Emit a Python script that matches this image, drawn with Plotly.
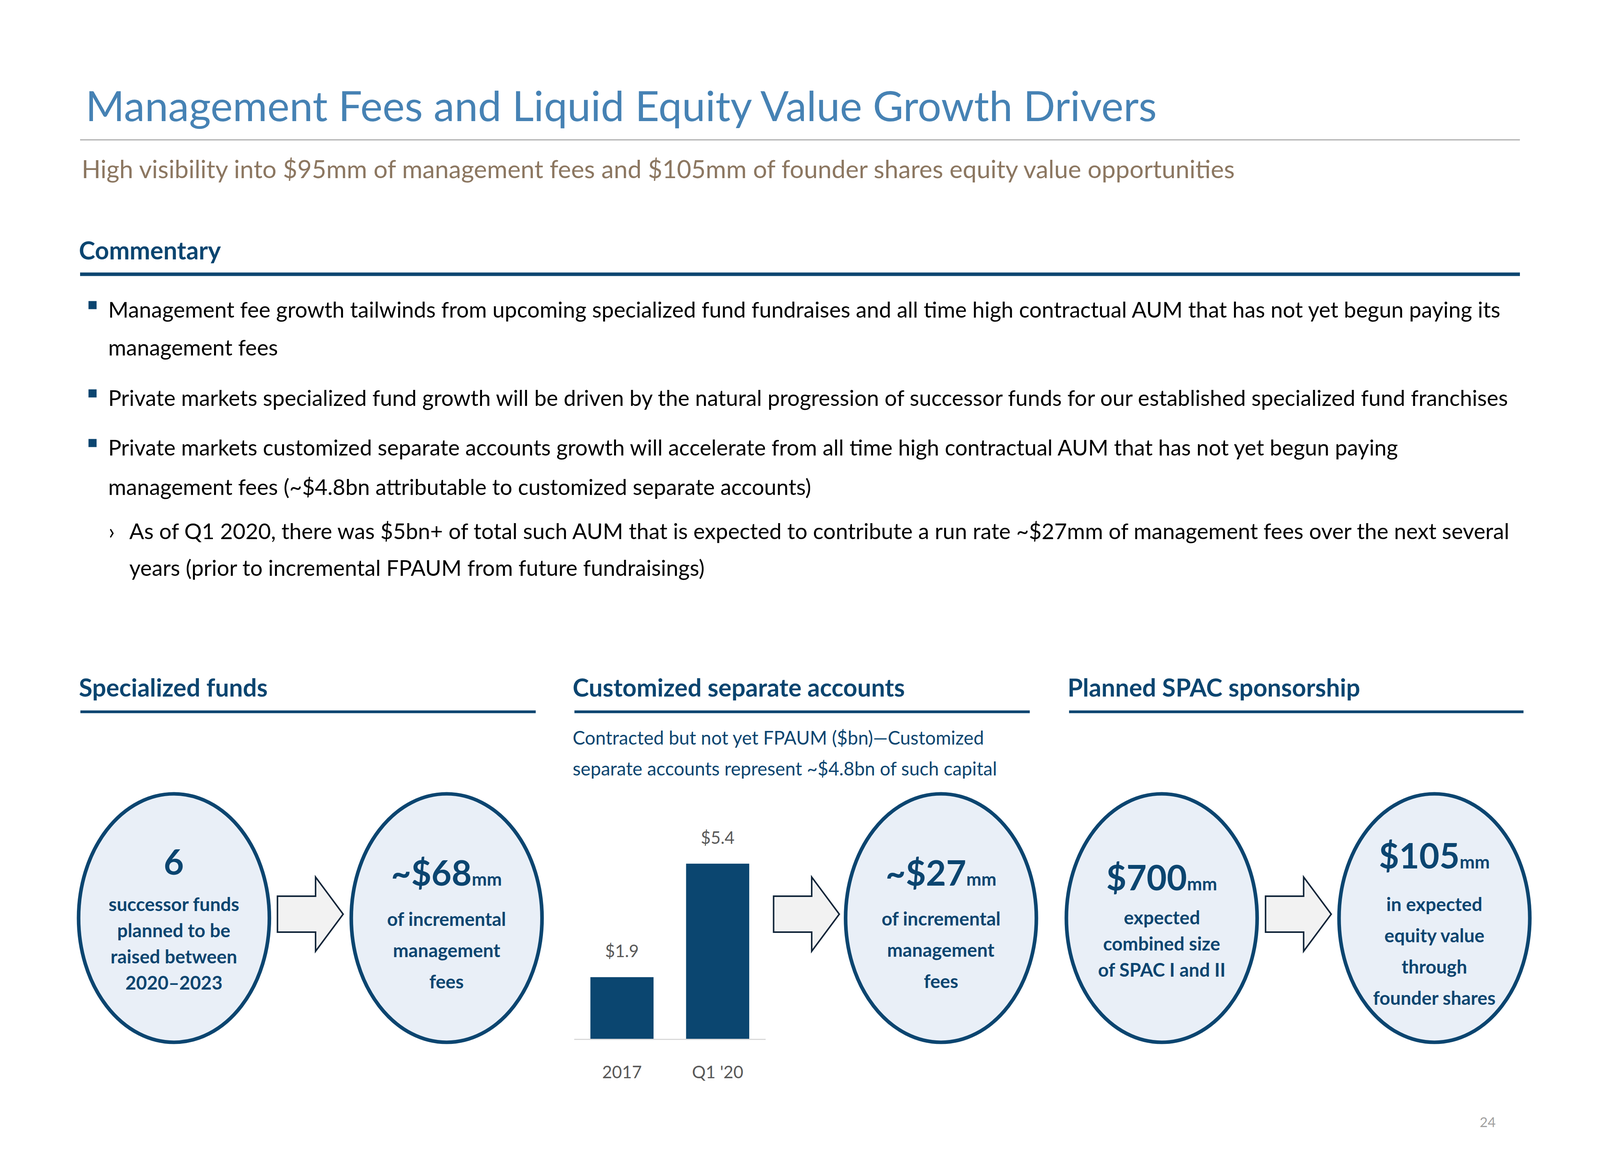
import plotly.graph_objects as go

# slide grid of the reference (5334 x 3000); the page shows 4096 x 3000 css px
W, H = 5334, 3000
CSS_W, CSS_H = 4096, 3000
SX = W / CSS_W          # slide units per css px, horizontal
SY = H / CSS_H          # slide units per css px, vertical
OFFX, OFFY = 8 * SX, 8 * SY   # default body margin of the page

FONT = "Lato"
NAVY = "#0B4570"
TITLE_BLUE = "#4682B4"
BROWN = "#8C7761"
GRAY = "#595959"

# --- data ---
categories = ["2017", "Q1 '20"]
fpaum_bn = [1.9, 5.4]
bar_labels = ["$1.9", "$5.4"]

title = "Management Fees and Liquid Equity Value Growth Drivers"
subtitle = "High visibility into $95mm of management fees and $105mm of founder shares equity value opportunities"

# kind: b = bullet line, c = continuation, s = sub bullet, sc = sub continuation
commentary = [
    ("Management fee growth tailwinds from upcoming specialized fund fundraises and all time high contractual AUM that has not yet begun paying its", "b"),
    ("management fees", "c"),
    ("Private markets specialized fund growth will be driven by the natural progression of successor funds for our established specialized fund franchises", "b"),
    ("Private markets customized separate accounts growth will accelerate from all time high contractual AUM that has not yet begun paying", "b"),
    ("management fees (~$4.8bn attributable to customized separate accounts)", "c"),
    ("As of Q1 2020, there was $5bn+ of total such AUM that is expected to contribute a run rate ~$27mm of management fees over the next several", "s"),
    ("years (prior to incremental FPAUM from future fundraisings)", "sc"),
]
baselines = [813, 910, 1039, 1166, 1267, 1380, 1474]

sections = ["Specialized funds", "Customized separate accounts", "Planned SPAC sponsorship"]
section_x = [(268, 1786), (1915, 3433), (3564, 5079)]
chart_note = ["Contracted but not yet FPAUM ($bn)—Customized",
              "separate accounts represent ~$4.8bn of such capital"]

circle_cx = [580, 1489, 3137, 3873, 4782]
circle_big = ["6", "~$68", "~$27", "$700", "$105"]
circle_unit = ["", "mm", "mm", "mm", "mm"]
circle_lines = [
    ["successor funds", "planned to be", "raised between", "2020–2023"],
    ["of incremental", "management", "fees"],
    ["of incremental", "management", "fees"],
    ["expected", "combined size", "of SPAC I and II"],
    ["in expected", "equity value", "through", "founder shares"],
]
big_y = [2204, 2232, 2232, 2244, 2188]
line_y0 = [2313, 2351, 2350, 2347, 2313]
line_step = [67, 80, 80, 67, 80]
arrow_x = [925, 2579, 4219]


def fs(v):
    # size given in slide units (measured along x) -> css px
    return v / SX


def domx(X):
    return (X - OFFX) / (W - OFFX)


def domy(Y):
    return 1 - (Y - OFFY) / (H - OFFY)


fig = go.Figure()

xpos = list(range(len(categories)))
fig.add_trace(go.Bar(
    x=xpos, y=fpaum_bn, xaxis="x2", yaxis="y2", width=0.66,
    marker=dict(color="#0B4670", line=dict(width=0)),
    hoverinfo="skip", showlegend=False,
))

ann = []
shapes = []


def text(x, y, s, size, color="#000000", bold=False, xanchor="left", yanchor="middle"):
    if bold:
        s = "<b>" + s + "</b>"
    ann.append(dict(x=x, y=y, xref="x", yref="y", text=s, showarrow=False,
                    xanchor=xanchor, yanchor=yanchor,
                    font=dict(family=FONT, size=fs(size), color=color)))


def hline(x0, x1, y, color, width):
    shapes.append(dict(type="line", x0=x0, x1=x1, y0=y, y1=y,
                       line=dict(color=color, width=fs(width))))


def mid(baseline, size):
    # baseline -> middle of the text box, in slide y units
    return baseline - 0.39 * fs(size) * SY


# header
text(282, mid(310, 140), title, 140, TITLE_BLUE)
hline(267, 5067, 358, "#A0A0A0", 3)
text(270, mid(456, 83), subtitle, 83, BROWN)
text(260, mid(664, 82), "Commentary", 82, NAVY, bold=True)
hline(267, 5067, 702, NAVY, 12)

# commentary bullets
sq = fs(27) * SY
for (s, kind), yb in zip(commentary, baselines):
    yc = mid(yb, 73)
    if kind == "b":
        shapes.append(dict(type="rect", x0=295, x1=322, y0=yb - 32 - sq / 2,
                           y1=yb - 32 + sq / 2, fillcolor=NAVY, line=dict(width=0)))
    if kind == "s":
        text(360, yc, "›", 73)
    x = 358 if kind in ("b", "c") else 428
    text(x, yc, s, 73)

# section headers
for s, (x0, x1) in zip(sections, section_x):
    text(x0 - 8, mid(1783, 82), s, 82, NAVY, bold=True)
    hline(x0, x1, 1822, NAVY, 9)
for i, s in enumerate(chart_note):
    text(1907, mid(1906 + 79 * i, 62), s, 62, NAVY)

# circles
R = 318
for cx, big, unit, lines, by, y0, st in zip(circle_cx, circle_big, circle_unit,
                                             circle_lines, big_y, line_y0, line_step):
    shapes.append(dict(type="circle", x0=cx - R, x1=cx + R, y0=2350 - R, y1=2350 + R,
                       fillcolor="#E9EFF7", line=dict(color=NAVY, width=fs(12))))
    s = big + (f"<span style='font-size:{fs(60):.1f}px'>{unit}</span>" if unit else "")
    text(cx, by, s, 116, NAVY, bold=True, xanchor="center")
    for k, ln in enumerate(lines):
        text(cx, y0 + st * k, ln, 62, NAVY, bold=True, xanchor="center")

# arrows
for ax in arrow_x:
    yc = 2340
    p = (f"M {ax},{yc - 46} L {ax + 127},{yc - 46} L {ax + 127},{yc - 95} "
         f"L {ax + 219},{yc} L {ax + 127},{yc + 95} L {ax + 127},{yc + 46} "
         f"L {ax},{yc + 46} Z")
    shapes.append(dict(type="path", path=p, fillcolor="#F2F2F2",
                       line=dict(color="#102438", width=fs(5))))

# bar value labels
for xp, v, lab in zip(xpos, fpaum_bn, bar_labels):
    ann.append(dict(x=xp, y=v, xref="x2", yref="y2", text=lab, showarrow=False,
                    yanchor="middle", yshift=68 / SY,
                    font=dict(family=FONT, size=fs(57), color=GRAY)))

# page number
text(4960, 2871, "24", 46, "#A0A0A0", xanchor="center")

fig.update_layout(
    width=CSS_W - 8, height=CSS_H - 8,
    margin=dict(l=0, r=0, t=0, b=0),
    paper_bgcolor="white", plot_bgcolor="white",
    showlegend=False,
    xaxis=dict(range=[OFFX, W], visible=False, fixedrange=True, domain=[0, 1]),
    yaxis=dict(range=[H, OFFY], visible=False, fixedrange=True, domain=[0, 1]),
    xaxis2=dict(domain=[domx(1914), domx(2552)], anchor="y2", range=[-0.5, 1.5],
                tickvals=xpos, ticktext=categories,
                showgrid=False, zeroline=False,
                showline=True, linecolor="#D9D9D9", linewidth=fs(4),
                ticks="outside", ticklen=45, tickcolor="rgba(0,0,0,0)",
                tickfont=dict(family=FONT, size=fs(57), color=GRAY)),
    yaxis2=dict(domain=[domy(2659), domy(2659 - 6 * 83)], anchor="x2",
                range=[0, 6], visible=False),
    annotations=ann,
    shapes=shapes,
)

fig.write_html("out.html")
